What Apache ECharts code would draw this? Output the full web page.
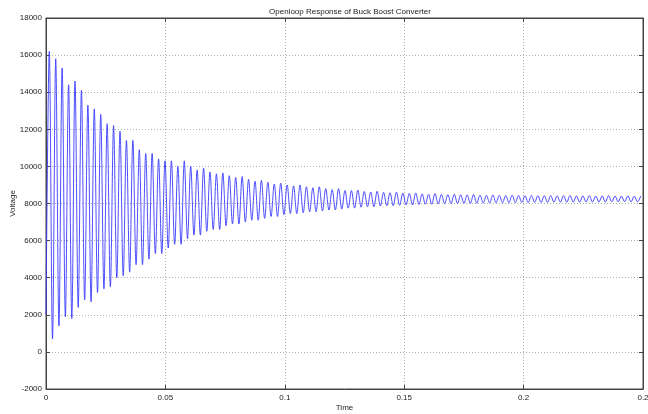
<!DOCTYPE html>
<html>
<head>
<meta charset="utf-8">
<script src="https://cdn.jsdelivr.net/npm/echarts@6/dist/echarts.min.js"></script>
<style>html,body{margin:0;padding:0;background:#fff;}#c{width:648px;height:414px;}</style>
</head>
<body>
<div id="c"></div>
<script>
// Tick labels as shown in the reference
const xTickLabels = ['0', '0.05', '0.1', '0.15', '0.2', '0.2'];
const yTickLabels = ['-2000', '0', '2000', '4000', '6000', '8000', '10000', '12000', '14000', '16000', '18000'];

// Oscillation extremes (regularly spaced in time)
const startValue = 2000;          // value at t = 0
const firstPeakTime = 0.00138;    // time of first peak
const halfPeriod = 0.001346;      // spacing between a peak and the next trough
const peakValues = [
  16200, 15800, 15300, 14400, 14600, 14100, 13300, 13100, 12800, 12300,
  12200, 11900, 11400, 11400, 10900, 10700, 10700, 10400, 10300, 10300,
  10000, 10300, 10000, 9800, 9900, 9700, 9600, 9650, 9500, 9400,
  9450, 9300, 9200, 9250, 9150, 9050, 9100, 9000, 8950, 9000,
  8900, 8850, 8900, 8800, 8750, 8800, 8700, 8700, 8720, 8650,
  8620, 8660, 8600, 8580, 8610, 8560, 8540, 8570, 8520, 8500,
  8530, 8490, 8480, 8500, 8470, 8460, 8480, 8450, 8440, 8460,
  8440, 8430, 8450, 8430, 8420, 8440, 8420, 8420, 8430, 8410,
  8420, 8430, 8410, 8410, 8420, 8400, 8410, 8420, 8400, 8400,
  8410, 8400, 8400
];
const troughValues = [
  700, 1400, 1900, 1800, 2400, 2800, 2700, 3200, 3400, 3500,
  4000, 4100, 4300, 4700, 4700, 5000, 5300, 5300, 5600, 5800,
  5800, 6100, 6300, 6300, 6500, 6600, 6600, 6800, 6900, 6900,
  7000, 7100, 7100, 7200, 7300, 7300, 7400, 7450, 7450, 7500,
  7550, 7550, 7600, 7650, 7650, 7700, 7750, 7750, 7800, 7820,
  7820, 7860, 7880, 7880, 7900, 7920, 7920, 7950, 7960, 7960,
  7980, 7990, 7990, 8000, 8010, 8010, 8020, 8030, 8030, 8040,
  8040, 8040, 8050, 8050, 8050, 8060, 8060, 8060, 8070, 8070,
  8070, 8070, 8080, 8080, 8080, 8080, 8080, 8090, 8090, 8090,
  8090, 8090
];

// Build the [time, value] points from the arrays above
const points = [[0, startValue]];
for (let k = 0; k < peakValues.length; k++) {
  points.push([firstPeakTime + 2 * k * halfPeriod, peakValues[k]]);
  if (k < troughValues.length) {
    points.push([firstPeakTime + (2 * k + 1) * halfPeriod, troughValues[k]]);
  }
}

const font = 'Liberation Sans, Arial, sans-serif';
const chart = echarts.init(document.getElementById('c'), null, {renderer: 'canvas'});
chart.setOption({
  animation: false,
  backgroundColor: '#ffffff',
  title: {
    text: 'Openloop Response of Buck Boost Converter',
    left: 345, top: 3, textAlign: 'center',
    textStyle: {fontFamily: font, fontSize: 8, fontWeight: 'normal', color: '#222'}
  },
  grid: {left: 46, right: 5, top: 18, bottom: 25, outerBoundsMode: 'none', containLabel: false,
         show: true, borderColor: '#444', borderWidth: 1, backgroundColor: '#fff'},
  xAxis: [{
    type: 'value', min: 0, max: 0.25, interval: 0.05,
    name: 'Time', nameLocation: 'middle', nameGap: 15, nameMoveOverlap: false,
    nameTextStyle: {fontFamily: font, fontSize: 8, color: '#222'},
    axisLine: {show: true, onZero: false, lineStyle: {color: '#444'}},
    axisTick: {show: true, inside: true, length: 4, lineStyle: {color: '#444'}},
    axisLabel: {fontFamily: font, fontSize: 8, color: '#222', margin: 5,
      formatter: function (v) { const i = Math.round(v / 0.05); return xTickLabels[i] !== undefined ? xTickLabels[i] : ''; }},
    splitLine: {show: true, lineStyle: {color: '#b0b0b0', type: [1, 2], width: 1}}
  }, {
    type: 'value', position: 'top', min: 0, max: 0.25, interval: 0.05,
    axisLine: {show: true, onZero: false, lineStyle: {color: '#444'}},
    axisTick: {show: true, inside: true, length: 4, lineStyle: {color: '#444'}},
    axisLabel: {show: false}, splitLine: {show: false}
  }],
  yAxis: [{
    type: 'value', min: -2000, max: 18000, interval: 2000,
    name: 'Voltage', nameLocation: 'middle', nameGap: 29, nameRotate: 90, nameMoveOverlap: false,
    nameTextStyle: {fontFamily: font, fontSize: 8, color: '#222'},
    axisLine: {show: true, onZero: false, lineStyle: {color: '#444'}},
    axisTick: {show: true, inside: true, length: 4, lineStyle: {color: '#444'}},
    axisLabel: {fontFamily: font, fontSize: 8, color: '#222', margin: 4,
      formatter: function (v) { const i = Math.round((v + 2000) / 2000); return yTickLabels[i] !== undefined ? yTickLabels[i] : ''; }},
    splitLine: {show: true, lineStyle: {color: '#b0b0b0', type: [1, 2], width: 1}}
  }, {
    type: 'value', position: 'right', min: -2000, max: 18000, interval: 2000,
    axisLine: {show: true, onZero: false, lineStyle: {color: '#444'}},
    axisTick: {show: true, inside: true, length: 4, lineStyle: {color: '#444'}},
    axisLabel: {show: false}, splitLine: {show: false}
  }],
  series: [{
    type: 'line', xAxisIndex: 0, yAxisIndex: 0,
    data: points, showSymbol: false, symbol: 'none', smooth: 0.35,
    lineStyle: {color: '#3a3aff', width: 0.9},
    silent: true
  }]
});
</script>
</body>
</html>
